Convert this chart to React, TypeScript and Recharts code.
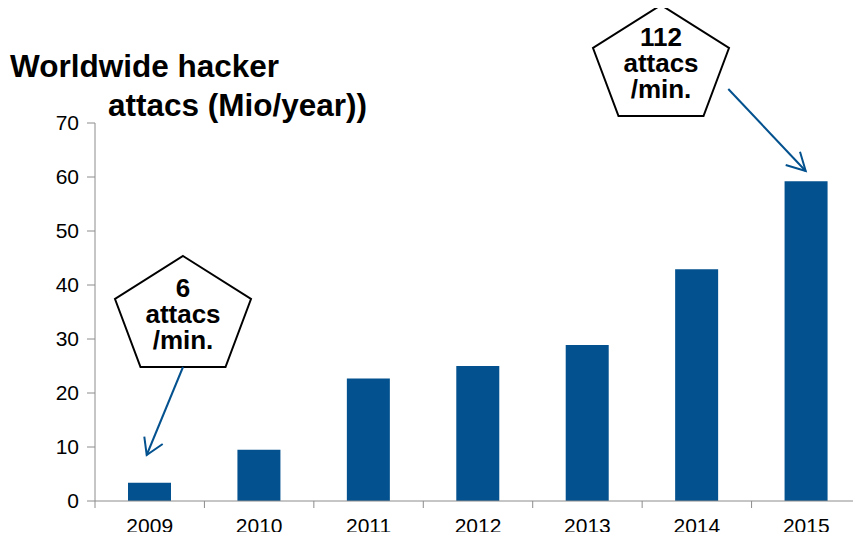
import React from 'react';
import { BarChart, Bar, XAxis, YAxis } from 'recharts';

const years = ['2009', '2010', '2011', '2012', '2013', '2014', '2015'];
const attacks = [3.4, 9.5, 22.7, 25, 28.9, 42.9, 59.2];
const yTicks = [0, 10, 20, 30, 40, 50, 60, 70];

const data = years.map((year, i) => ({ year, attacks: attacks[i] }));

const W = 861;
const H = 540;
const LEFT = 95;
const BAND = (W - LEFT) / years.length;
const BLUE = '#03518e';
const AXIS = '#8c8c8c';
const FONT = 'Arial, "Liberation Sans", sans-serif';

const YearTick = (props: any) => {
  const { x, y, payload } = props;
  return (
    <g>
      <line x1={x - BAND / 2} y1={y} x2={x - BAND / 2} y2={y + 7} stroke={AXIS} strokeWidth={1} />
      <text x={x} y={y + 17} dy="0.71em" textAnchor="middle" fill="#000" fontSize={21} fontFamily={FONT}>
        {payload.value}
      </text>
    </g>
  );
};

const Callout = ({ cx, top, lines }: { cx: number; top: number; lines: string[] }) => {
  // pentagon around the text
  const pts = [
    [cx, top],
    [cx + 68, top + 43],
    [cx + 42.5, top + 111],
    [cx - 42.5, top + 111],
    [cx - 68, top + 43],
  ]
    .map((p) => p.join(','))
    .join(' ');
  return (
    <g>
      <polygon points={pts} fill="#fff" stroke="#000" strokeWidth={2} />
      <text x={cx} y={top + 41} textAnchor="middle" fontSize={26} fontWeight="bold" fontFamily={FONT} fill="#000">
        {lines.map((t, i) => (
          <tspan key={i} x={cx} dy={i === 0 ? 0 : 26}>
            {t}
          </tspan>
        ))}
      </text>
    </g>
  );
};

export default function App() {
  return (
    <div style={{ position: 'relative', width: W, height: H, margin: -8, background: '#fff' }}>
      <BarChart width={W} height={H} data={data} margin={{ top: 123, right: 0, bottom: 9, left: 0 }}>
        <XAxis
          dataKey="year"
          height={30}
          axisLine={{ stroke: AXIS }}
          tickLine={false}
          tickSize={0}
          tickMargin={0}
          interval={0}
          tick={<YearTick />}
        />
        <YAxis
          width={LEFT}
          domain={[0, 70]}
          ticks={yTicks}
          interval={0}
          axisLine={{ stroke: AXIS }}
          tickLine={{ stroke: AXIS }}
          tickSize={8}
          tickMargin={8}
          tick={{ fill: '#000', fontSize: 21, fontFamily: FONT }}
        />
        <Bar dataKey="attacks" fill={BLUE} barSize={43} isAnimationActive={false} />
      </BarChart>
      <svg width={W} height={H} style={{ position: 'absolute', left: 0, top: 0, pointerEvents: 'none' }}>
        <text x={10} y={77} fontSize={31.5} fontWeight="bold" fontFamily={FONT} fill="#000">
          Worldwide hacker
        </text>
        <text x={108} y={116} fontSize={31.5} fontWeight="bold" fontFamily={FONT} fill="#000">
          attacs (Mio/year))
        </text>
        <Callout cx={183} top={256} lines={['6', 'attacs', '/min.']} />
        <Callout cx={661} top={5} lines={['112', 'attacs', '/min.']} />
        <g stroke={BLUE} strokeWidth={2} fill="none">
          <line x1={183} y1={367} x2={146.7} y2={455} />
          <polyline points="144.3,436.7 146.7,455 162.7,444" />
          <line x1={728.3} y1={89} x2={805.7} y2={171} />
          <polyline points="800,151.7 805.7,171 785.7,165" />
        </g>
      </svg>
    </div>
  );
}
